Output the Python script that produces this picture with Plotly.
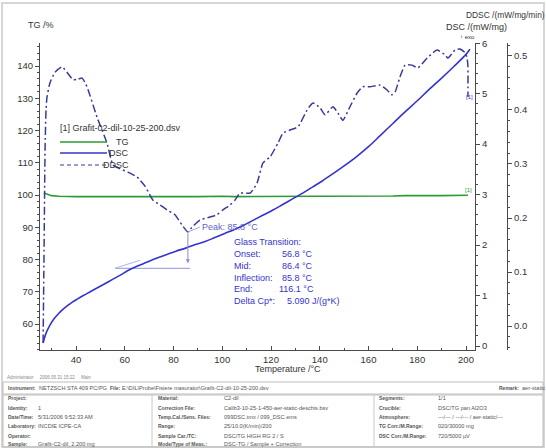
import plotly.graph_objects as go

# ---------------- data ----------------
temp_tg = [26.8, 27.5, 28.5, 30, 33, 36, 40, 45, 50, 55, 60, 65, 70, 75, 80, 85, 90, 95, 100,
           105, 110, 115, 120, 125, 130, 135, 140, 145, 150, 155, 160, 165, 170, 175, 180,
           185, 190, 195, 200, 200.8]
tg = [100.6, 100.4, 100.1, 99.8, 99.6, 99.5, 99.5, 99.5, 99.4, 99.5, 99.5, 99.6, 99.5, 99.5,
      99.4, 99.5, 99.5, 99.6, 99.6, 99.5, 99.5, 99.6, 99.6, 99.6, 99.5, 99.6, 99.6, 99.6,
      99.7, 99.6, 99.7, 99.7, 99.7, 99.8, 99.7, 99.8, 99.8, 99.9, 99.9, 99.9]

temp_dsc = [26.5, 27.0, 27.6, 28.5, 29.5, 31.0, 32.6, 34.5, 36.5, 38.5, 40.5, 43.0, 46.0, 49.0,
            52.0, 55.0, 58.0, 61.5, 65.0, 69.0, 73.0, 77.0, 81.0, 85.0, 89.0, 93.0, 97.0, 101.0,
            105.0, 109.0, 113.0, 117.0, 121.0, 125.0, 129.0, 133.0, 137.0, 141.0, 145.0, 150.0,
            155.0, 160.0, 165.0, 170.0, 175.0, 180.0, 185.0, 190.0, 195.0, 200.0, 201.6]
dsc = [0.06, 0.15, 0.24, 0.34, 0.43, 0.54, 0.63, 0.72, 0.80, 0.87, 0.93, 1.00, 1.08, 1.16,
       1.24, 1.32, 1.40, 1.50, 1.58, 1.66, 1.74, 1.81, 1.88, 1.94, 2.01, 2.07, 2.15, 2.23,
       2.31, 2.40, 2.50, 2.60, 2.70, 2.81, 2.92, 3.03, 3.15, 3.27, 3.40, 3.57,
       3.75, 3.95, 4.18, 4.41, 4.64, 4.86, 5.09, 5.31, 5.54, 5.78, 5.88]

temp_ddsc = [26.5, 26.9, 27.3, 27.7, 28.1, 29.3, 31.4, 34.3, 36.3, 38.8, 40.8, 42.5, 44.5, 48.6,
             52.7, 55.2, 58.1, 61.3, 65.0, 68.3, 71.6, 74.5, 77.3, 80.6, 83.5, 85.9, 87.6, 90.9,
             95.0, 97.8, 100.3, 103.2, 105.2, 107.3, 111.4, 114.3, 116.7, 119.6, 122.9, 124.9,
             127.8, 131.1, 134.8, 137.2, 140.1, 142.2, 145.4, 147.5, 149.5, 152.4, 155.3, 157.7,
             160.6, 164.7, 167.6, 169.6, 170.9, 172.9, 175.0, 177.8, 180.3, 184.0, 188.1, 191.4,
             192.6, 195.5, 197.5, 199.6, 200.4, 200.8, 200.8, 200.8]
ddsc = [-0.031, 0.141, 0.326, 0.400, 0.424, 0.450, 0.470, 0.480, 0.470, 0.456, 0.457, 0.459,
        0.443, 0.387, 0.339, 0.298, 0.291, 0.285, 0.276, 0.259, 0.233, 0.224, 0.215, 0.206,
        0.187, 0.174, 0.183, 0.196, 0.202, 0.206, 0.215, 0.224, 0.233, 0.246, 0.246, 0.265,
        0.302, 0.313, 0.339, 0.357, 0.363, 0.369, 0.400, 0.413, 0.404, 0.391, 0.406, 0.394,
        0.381, 0.406, 0.431, 0.443, 0.443, 0.446, 0.437, 0.428, 0.433, 0.461, 0.483, 0.483,
        0.478, 0.496, 0.511, 0.502, 0.496, 0.511, 0.513, 0.506, 0.498, 0.480, 0.452, 0.424]

# glass transition evaluation
gt_onset_line_t = [56.0, 86.8]
gt_onset_line_dsc = [1.54, 1.54]
gt_tangent_t = [56.0, 66.3]
gt_tangent_dsc = [1.54, 1.70]
peak_t = 85.9
peak_ddsc = 0.174
gt_labels = ["Onset:", "Mid:", "Inflection:", "End:", "Delta Cp*:"]
gt_values = ["56.8 °C", "86.4 °C", "85.8 °C", "116.1 °C", "5.090 J/(g*K)"]

x_ticks = [40, 60, 80, 100, 120, 140, 160, 180, 200]

# ---------------- layout helpers ----------------
W, H = 546, 448
L, R, T, B = 40, 507, 43, 350          # paper area in pixels


def px(x):
    return (x - L) / (R - L)


def py(y):
    return (B - y) / (B - T)


FONT = "Liberation Sans, Arial, sans-serif"
BLUE = "#3434cc"
DDSC_C = "#3a3a9a"
GREEN = "#2f9a35"
AX = "#4a4a4a"

fig = go.Figure()
fig.add_trace(go.Scatter(x=temp_tg, y=tg, mode="lines", name="TG",
                         line=dict(color=GREEN, width=1.6), yaxis="y"))
fig.add_trace(go.Scatter(x=gt_onset_line_t, y=gt_onset_line_dsc, mode="lines",
                         line=dict(color="#a8a8e4", width=1.2), yaxis="y2", showlegend=False))
fig.add_trace(go.Scatter(x=gt_tangent_t, y=gt_tangent_dsc, mode="lines",
                         line=dict(color="#b8b8ea", width=1.2), yaxis="y2", showlegend=False))
fig.add_trace(go.Scatter(x=temp_dsc, y=dsc, mode="lines", name="DSC",
                         line=dict(color=BLUE, width=1.6, shape="spline", smoothing=1.0),
                         yaxis="y2"))
fig.add_trace(go.Scatter(x=temp_ddsc, y=ddsc, mode="lines", name="DDSC",
                         line=dict(color=DDSC_C, width=1.5, dash="8px,3px,2px,3px",
                                   shape="spline", smoothing=0.5),
                         yaxis="y3"))

tick_font = dict(family=FONT, size=9.5, color="#333")
common = dict(showgrid=False, zeroline=False, showline=True, linecolor=AX, linewidth=1.2,
              ticklen=4, tickcolor=AX, tickfont=tick_font)

fig.update_layout(
    width=W, height=H,
    margin=dict(l=L, r=W - R, t=T, b=H - B),
    paper_bgcolor="white", plot_bgcolor="white",
    showlegend=False,
    xaxis=dict(domain=[0, px(475)], range=[25.23, 203.69], tickvals=x_ticks, ticks="inside",
               minor=dict(dtick=10, tick0=0, ticklen=2, ticks="inside", tickcolor=AX),
               **common),
    yaxis=dict(range=[51.94, 147.13], tick0=0, dtick=10, ticks="outside",
               minor=dict(dtick=2, tick0=0, ticklen=2, ticks="outside", tickcolor=AX),
               **common),
    yaxis2=dict(range=[-0.079, 6.005], tick0=0, dtick=1, overlaying="y", side="right",
                anchor="x", ticks="outside",
                minor=dict(dtick=0.2, tick0=0, ticklen=2, ticks="outside", tickcolor=AX),
                **common),
    yaxis3=dict(range=[-0.0444, 0.524], tick0=0, dtick=0.1, tickformat=".1f",
                overlaying="y", side="right", anchor="free", position=1, ticks="outside",
                minor=dict(dtick=0.02, tick0=0, ticklen=2, ticks="outside", tickcolor=AX),
                **common),
)

ann = []


def text(x, y, s, size=9, color="#333", anchor="left", bold=False):
    if bold:
        s = "<b>" + s + "</b>"
    ann.append(dict(x=px(x), y=py(y), xref="paper", yref="paper", text=s, showarrow=False,
                    xanchor=anchor, yanchor="middle",
                    font=dict(family=FONT, size=size, color=color)))


# axis titles
text(41, 25, "TG /%", 9, "#333", "center")
text(476, 27, "DSC /(mW/mg)", 9, "#333", "center")
text(464, 15, "DDSC /(mW/mg/min)", 8.4, "#333", "left")
text(467, 37, "↑ exo", 6, "#333", "center")
text(288, 369, "Temperature /°C", 9, "#333", "center")

# legend block
text(58, 128, "[1] Grafit-02-dil-10-25-200.dsv", 9, "#333", "left")
for name, yy in [("TG", 142), ("DSC", 153), ("DDSC", 165)]:
    text(131, yy, name, 9, "#333", "right")
shapes = [
    dict(type="line", xref="paper", yref="paper", x0=px(60), x1=px(107), y0=py(142), y1=py(142),
         line=dict(color=GREEN, width=1.4)),
    dict(type="line", xref="paper", yref="paper", x0=px(60), x1=px(107), y0=py(153), y1=py(153),
         line=dict(color=BLUE, width=1.4)),
    dict(type="line", xref="paper", yref="paper", x0=px(60), x1=px(107), y0=py(165), y1=py(165),
         line=dict(color=DDSC_C, width=1.2, dash="4px,3px")),
]

# curve end markers
text(468, 190, "[1]", 6, GREEN, "center")
text(469, 97, "[1]", 6, BLUE, "center")

# glass transition text
text(232, 242, "Glass Transition:", 9, BLUE)
gt_y = [254, 266, 278, 289, 301]
gt_vx = [280, 280, 280, 277, 285]
for lab, val, yy, vx in zip(gt_labels, gt_values, gt_y, gt_vx):
    text(232, yy, lab, 9, BLUE)
    text(vx, yy, val, 9, BLUE)

# peak label with connector
ann.append(dict(x=peak_t, y=peak_ddsc, xref="x", yref="y3", text="Peak: 85.8 °C",
                showarrow=True, arrowhead=0, arrowwidth=0.8, arrowcolor="#8a8ad8",
                ax=12, ay=-5, xanchor="left", yanchor="middle",
                font=dict(family=FONT, size=9, color="#6262c8")))
# vertical arrow from the DDSC peak down to the step baseline
ann.append(dict(x=peak_t, y=1.64, xref="x", yref="y2", ax=peak_t, ay=2.26, axref="x",
                ayref="y2", text="", showarrow=True, arrowhead=2, arrowsize=0.8,
                arrowwidth=1, arrowcolor="#8a8ad8"))

# ---------------- frame and info table ----------------
def rect(x0, y0, x1, y1, color="#c8c8c8", width=1):
    shapes.append(dict(type="rect", xref="paper", yref="paper", x0=px(x0), x1=px(x1),
                       y0=py(y0), y1=py(y1), line=dict(color=color, width=width)))


def vline(x, y0, y1, color="#c8c8c8"):
    shapes.append(dict(type="line", xref="paper", yref="paper", x0=px(x), x1=px(x),
                       y0=py(y0), y1=py(y1), line=dict(color=color, width=1)))


rect(2, 3, 544, 447, "#d6d6d6", 2)
rect(3, 382, 543, 394, "#bdbdbd", 1)
rect(3, 395, 543, 447, "#bdbdbd", 1)
vline(152, 395, 447)
vline(374, 395, 447)

LS = 5.0     # bold label size
VS = 5.6     # value size
TC = "#555"
text(5, 377, "Administrator     2006.05.31 15:22     Main", 4.5, "#888")
text(6, 388, "Instrument:", LS, TC, bold=True)
text(37, 388, "NETZSCH STA 409 PC/PG", VS, TC)
text(108, 388, "File:", LS, TC, bold=True)
text(120, 388, "E:\\DIL\\Probe\\Fisiere masurator\\Grafit-C2-dil-10-25-200.dsv", VS, TC)
text(497, 388, "Remark:", LS, TC, bold=True)
text(520, 388, "aer-static", VS, TC)

rows_y = [398, 407.5, 417, 426.5, 436, 444]
col1 = [("Project:", ""), ("Identity:", "1"), ("Date/Time:", "5/31/2006 9:52:33 AM"),
        ("Laboratory:", "INCDIE ICPE-CA"), ("Operator:", ""), ("Sample:", "Grafit-C2-dil, 2.200 mg")]
col2 = [("Material:", "C2-dil"), ("Correction File:", "Calib3-10-25-1-450-aer-static-deschis.bsv"),
        ("Temp.Cal./Sens. Files:", "099DSC.tmx / 099_DSC.ems"), ("Range:", "25/10.0(K/min)/200"),
        ("Sample Car./TC:", "DSC/TG HIGH RG 2 / S"), ("Mode/Type of Meas.:", "DSC-TG / Sample + Correction")]
col3 = [("Segments:", "1/1"), ("Crucible:", "DSC/TG pan Al2O3"),
        ("Atmosphere:", "---/--- / ---/--- / aer-static/---"), ("TG Corr./M.Range:", "020/30000 mg"),
        ("DSC Corr./M.Range:", "720/5000 µV")]
for cols, lx, vx in [(col1, 6, 36), (col2, 156, 222), (col3, 377, 436)]:
    for (lab, val), yy in zip(cols, rows_y):
        text(lx, yy, lab, LS, TC, bold=True)
        if val:
            text(vx, yy, val, VS, TC)

fig.update_layout(annotations=ann, shapes=shapes)
fig.write_html("out.html", config={"displayModeBar": False},
               post_script="document.body.style.margin='0px';document.body.style.padding='0px';")
